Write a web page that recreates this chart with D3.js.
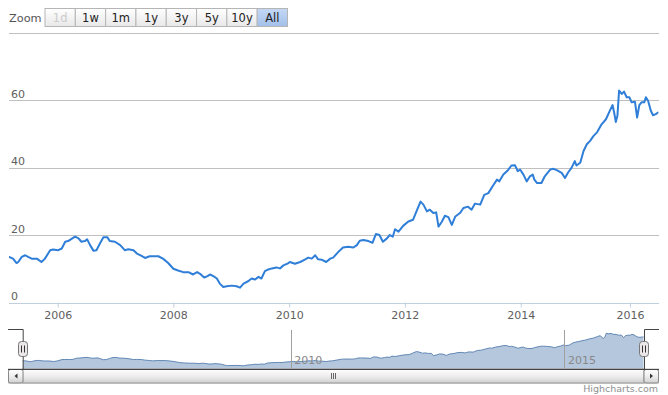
<!DOCTYPE html>
<html>
<head>
<meta charset="utf-8">
<script src="https://cdn.jsdelivr.net/npm/d3@7"></script>
<style>
  body { margin: 0; background: #fff; }
  svg { font-family: "DejaVu Sans", Verdana, sans-serif; display: block; }
</style>
</head>
<body>
<svg></svg>
<script>
let svgWidth = 668;
let svgHeight = 395;

// data (decimal year, price)
let years = [
    2005.16, 2005.23, 2005.29, 2005.32, 2005.38, 2005.44, 2005.49, 2005.55, 2005.64, 2005.72,
    2005.78, 2005.87, 2005.92, 2006.01, 2006.07, 2006.13, 2006.18, 2006.30, 2006.36, 2006.41,
    2006.47, 2006.51, 2006.56, 2006.62, 2006.67, 2006.73, 2006.79, 2006.86, 2006.90, 2006.99,
    2007.08, 2007.16, 2007.22, 2007.31, 2007.37, 2007.45, 2007.51, 2007.59, 2007.74, 2007.82,
    2007.91, 2008.00, 2008.08, 2008.17, 2008.26, 2008.34, 2008.41, 2008.46, 2008.53, 2008.59,
    2008.63, 2008.69, 2008.75, 2008.80, 2008.86, 2008.92, 2009.01, 2009.09, 2009.15, 2009.21,
    2009.29, 2009.35, 2009.41, 2009.47, 2009.52, 2009.58, 2009.64, 2009.70, 2009.78, 2009.84,
    2009.90, 2009.97, 2010.01, 2010.10, 2010.19, 2010.27, 2010.33, 2010.39, 2010.45, 2010.50,
    2010.56, 2010.64, 2010.71, 2010.76, 2010.85, 2010.93, 2011.02, 2011.11, 2011.17, 2011.22,
    2011.28, 2011.37, 2011.44, 2011.50, 2011.56, 2011.62, 2011.69, 2011.74, 2011.79, 2011.83,
    2011.89, 2011.97, 2012.06, 2012.14, 2012.20, 2012.27, 2012.32, 2012.38, 2012.43, 2012.49,
    2012.54, 2012.58, 2012.64, 2012.69, 2012.75, 2012.81, 2012.87, 2012.95, 2013.01, 2013.09,
    2013.15, 2013.21, 2013.30, 2013.37, 2013.44, 2013.52, 2013.59, 2013.63, 2013.70, 2013.78,
    2013.84, 2013.90, 2013.95, 2013.99, 2014.05, 2014.11, 2014.17, 2014.22, 2014.25, 2014.30,
    2014.38, 2014.44, 2014.54, 2014.60, 2014.66, 2014.75, 2014.81, 2014.87, 2014.93, 2014.99,
    2015.02, 2015.09, 2015.15, 2015.21, 2015.27, 2015.33, 2015.40, 2015.48, 2015.56, 2015.63,
    2015.68, 2015.71, 2015.74, 2015.77, 2015.80, 2015.85, 2015.89, 2015.94, 2015.99, 2016.03,
    2016.09, 2016.13, 2016.17, 2016.21, 2016.26, 2016.29, 2016.33, 2016.38, 2016.42, 2016.47,
    2016.51
];
let prices = [
    13.5, 13.0, 11.7, 12.0, 13.5, 14.0, 13.5, 13.0, 13.0, 12.0,
    13.0, 15.5, 15.7, 15.5, 16.0, 18.0, 18.2, 19.5, 19.0, 18.0,
    18.2, 18.7, 17.0, 15.3, 15.5, 17.5, 19.3, 19.3, 18.2, 18.0,
    17.0, 15.5, 15.8, 15.5, 14.5, 13.8, 13.2, 13.7, 13.7, 13.0,
    11.7, 10.0, 9.5, 9.0, 9.0, 8.3, 9.0, 8.5, 7.4, 7.8,
    8.3, 7.8, 7.1, 5.6, 4.6, 4.8, 5.0, 4.8, 4.4, 5.6,
    6.3, 7.1, 6.8, 7.6, 7.1, 9.3, 9.8, 10.1, 10.4, 10.1,
    11.0, 11.5, 12.0, 11.5, 12.0, 12.7, 13.3, 13.0, 14.0, 12.8,
    12.7, 12.0, 13.0, 13.3, 15.0, 16.3, 16.5, 16.3, 17.0, 18.3,
    18.5, 18.2, 17.7, 20.3, 20.0, 18.0, 19.0, 20.0, 19.5, 21.7,
    21.0, 22.7, 24.0, 24.5, 27.0, 29.9, 29.0, 27.0, 27.5, 26.5,
    26.7, 22.5, 24.0, 25.7, 25.3, 23.0, 25.5, 26.5, 28.0, 28.4,
    27.5, 29.3, 29.0, 31.9, 32.4, 34.6, 36.4, 35.9, 37.9, 39.2,
    40.6, 40.7, 38.9, 39.4, 37.9, 35.9, 37.4, 37.9, 36.4, 35.4,
    35.4, 37.4, 39.4, 39.6, 39.2, 38.4, 36.9, 38.6, 39.9, 41.9,
    40.6, 41.4, 44.9, 46.9, 47.9, 49.3, 50.5, 52.8, 54.3, 56.8,
    58.5, 56.3, 53.5, 55.3, 62.8, 61.8, 62.5, 60.8, 60.8, 59.3,
    59.5, 54.8, 58.5, 59.3, 59.3, 60.8, 59.8, 56.8, 55.5, 55.8,
    56.3
];
let yTicks = [0, 20, 40, 60, 80];
let xTickYears = [2006, 2008, 2010, 2012, 2014, 2016];
let navTickYears = [2010, 2015];
let zoomButtons = ["1d", "1w", "1m", "1y", "3y", "5y", "10y", "All"];

function to_date(yr){
    let y = Math.floor(yr);
    let start = new Date(y, 0, 1).getTime();
    let end = new Date(y + 1, 0, 1).getTime();
    return new Date(start + (yr - y) * (end - start));
}

function get_data(){
    let out = [];
    for(let i = 0; i < years.length; i++){
        out.push({"date": to_date(years[i]), "v": prices[i]});
    }
    return out;
}

let data = get_data();

let plotLeft = 9, plotRight = 658.5;
let plotTop = 32.5, plotBottom = 302.5;
let navLeft = 22.7, navRight = 644;
let navTop = 329.5, navBottom = 369;

let xDomain = [to_date(2005.16), new Date(2006, 0, 1), new Date(2014, 0, 1), new Date(2016, 0, 1), to_date(2016.52)];
let xRange = [plotLeft, 57.7, 520.7, 630, plotRight];
let xScale = d3.scaleTime().domain(xDomain).range(xRange);
let yScale = d3.scaleLinear().domain([0, 80]).range([plotBottom, plotTop]);

let navRange = xRange.map(r => navLeft + (r - plotLeft) * (navRight - navLeft) / (plotRight - plotLeft));
let navX = d3.scaleTime().domain(xDomain).range(navRange);
let ext = d3.extent(prices);
let pad = (ext[1] - ext[0]) * 0.1;
let navY = d3.scaleLinear().domain([ext[0] - pad, ext[1] + pad]).range([navBottom, navTop + 0.5]);

let svg = d3.select('svg').attr('width', svgWidth).attr('height', svgHeight);
let defs = svg.append('defs');

function add_gradient(id, stops){
    let g = defs.append('linearGradient').attr('id', id)
        .attr('x1', 0).attr('y1', 0).attr('x2', 0).attr('y2', 1);
    stops.forEach(s => g.append('stop').attr('offset', s[0]).attr('stop-color', s[1]));
}
add_gradient('btnGrad', [[0, '#ffffff'], [1, '#e8e8e8']]);
add_gradient('selGrad', [[0, '#c4d8f5'], [1, '#a2c0ea']]);
add_gradient('barGrad', [[0, '#ffffff'], [0.5, '#eeeeee'], [1, '#d0d0d0']]);
add_gradient('trackGrad', [[0, '#eeeeee'], [1, '#f8f8f8']]);

defs.append('clipPath').attr('id', 'plotClip').append('rect')
    .attr('x', plotLeft).attr('y', 0).attr('width', plotRight - plotLeft).attr('height', plotBottom + 2);

// range selector
svg.append('text').attr('x', 9).attr('y', 22).attr('font-size', 11.3).attr('fill', '#555').text('Zoom');

let btnScale = d3.scaleBand().domain(zoomButtons).range([45, 287.5]);
let btns = svg.append('g').selectAll('g').data(zoomButtons).enter().append('g')
    .attr('transform', d => 'translate(' + btnScale(d) + ',8.5)');
btns.append('rect')
    .attr('width', btnScale.bandwidth()).attr('height', 18)
    .attr('fill', d => d === 'All' ? 'url(#selGrad)' : 'url(#btnGrad)')
    .attr('stroke', '#b5b5b5');
btns.append('text')
    .attr('x', btnScale.bandwidth() / 2).attr('y', 13.5)
    .attr('text-anchor', 'middle').attr('font-size', 11.5)
    .attr('fill', d => d === '1d' ? '#cccccc' : '#222')
    .text(d => d);

// grid + y labels
let y_axis = d3.axisRight(yScale).tickValues(yTicks)
    .tickSize(plotRight - plotLeft)
    .tickFormat(d => d === 80 ? '' : d);
let yg = svg.append('g').attr('transform', 'translate(' + plotLeft + ',0)').call(y_axis);
yg.select('.domain').remove();
yg.selectAll('line').attr('stroke', '#c0c0c0').attr('shape-rendering', 'crispEdges');
yg.selectAll('text').attr('x', 2).attr('dy', -3).attr('text-anchor', 'start')
    .attr('font-size', 11).attr('fill', '#606060').attr('font-family', '"DejaVu Sans", sans-serif');

// x axis
let x_axis = d3.axisBottom(xScale).tickValues(xTickYears.map(y => new Date(y, 0, 1)))
    .tickFormat(d3.timeFormat('%Y')).tickSizeInner(5).tickSizeOuter(0).tickPadding(4);
let xg = svg.append('g').attr('transform', 'translate(0,' + plotBottom + ')').call(x_axis);
xg.select('.domain').attr('stroke', '#c0d0e0').attr('shape-rendering', 'crispEdges');
xg.selectAll('line').attr('stroke', '#c0d0e0');
xg.selectAll('text').attr('font-size', 11).attr('fill', '#606060').attr('font-family', '"DejaVu Sans", sans-serif');

// main series
let lineFunction = d3.line().x(d => xScale(d.date)).y(d => yScale(d.v)).curve(d3.curveLinear);
svg.append('path').attr('d', lineFunction(data))
    .attr('clip-path', 'url(#plotClip)')
    .attr('fill', 'none').attr('stroke', '#2f7ed8').attr('stroke-width', 2)
    .attr('stroke-linejoin', 'round').attr('stroke-linecap', 'round');

// navigator
let nav_axis = d3.axisBottom(navX).tickValues(navTickYears.map(y => new Date(y, 0, 1)))
    .tickFormat(d3.timeFormat('%Y')).tickSizeInner(-(navBottom - navTop)).tickSizeOuter(0);
let ng = svg.append('g').attr('transform', 'translate(0,' + navBottom + ')').call(nav_axis);
ng.select('.domain').remove();
ng.selectAll('line').attr('stroke', '#a0a0a0').attr('shape-rendering', 'crispEdges');
ng.selectAll('text').attr('text-anchor', 'start').attr('x', 3).attr('y', -5).attr('dy', 0)
    .attr('font-size', 11).attr('fill', '#888').attr('font-family', '"DejaVu Sans", sans-serif');

let navArea = d3.area().x(d => navX(d.date)).y0(navBottom).y1(d => navY(d.v));
svg.append('path').attr('d', navArea(data)).attr('fill', '#4572a7').attr('fill-opacity', 0.4);
svg.append('path').attr('d', d3.line().x(d => navX(d.date)).y(d => navY(d.v))(data))
    .attr('fill', 'none').attr('stroke', '#4572a7').attr('stroke-width', 1).attr('stroke-opacity', 0.8);
// bring nav labels on top of the area
ng.raise();

// scrollbar
let sb = svg.append('g');
sb.append('rect').attr('x', 8.5).attr('y', navBottom).attr('width', 650).attr('height', 14)
    .attr('fill', 'url(#trackGrad)').attr('stroke', '#bbb');
sb.append('rect').attr('x', navLeft).attr('y', navBottom).attr('width', navRight - navLeft).attr('height', 14)
    .attr('fill', 'url(#barGrad)').attr('stroke', '#999');
let midX = (navLeft + navRight) / 2;
[-2, 0, 2].forEach(o => sb.append('line')
    .attr('x1', Math.round(midX) + o + 0.5).attr('x2', Math.round(midX) + o + 0.5)
    .attr('y1', 373).attr('y2', 379).attr('stroke', '#666'));
// buttons: dir -1 points left, +1 points right
[[8.5, -1], [navRight, 1]].forEach(b => {
    sb.append('rect').attr('x', b[0]).attr('y', navBottom + 0.5).attr('width', 14.5).attr('height', 13.5)
        .attr('rx', 2).attr('fill', 'url(#barGrad)').attr('stroke', '#888');
    let cx = b[0] + 7.5, cy = navBottom + 7;
    sb.append('path').attr('d', 'M' + (cx + 1.5 * b[1]) + ',' + cy + 'L' + (cx - 1.5 * b[1]) + ',' + (cy - 2.5) + 'L' + (cx - 1.5 * b[1]) + ',' + (cy + 2.5) + 'Z')
        .attr('fill', '#333');
});
sb.append('line').attr('x1', 8).attr('x2', 659).attr('y1', navBottom + 0.5).attr('y2', navBottom + 0.5)
    .attr('stroke', '#444');

// navigator outline + handles
svg.append('path')
    .attr('d', 'M8,' + navTop + 'H' + (navLeft + 0.5) + 'V' + navBottom +
        'M' + (navRight + 0.5) + ',' + navBottom + 'V' + navTop + 'H659')
    .attr('fill', 'none').attr('stroke', '#444');
[navLeft, navRight].forEach(hx => {
    let h = svg.append('g').attr('transform', 'translate(' + Math.round(hx) + ',349)');
    h.append('rect').attr('x', -4.5).attr('y', -7.5).attr('width', 9).attr('height', 15).attr('rx', 3)
        .attr('fill', '#ebe7e8').attr('stroke', '#777');
    [-1.5, 1.5].forEach(o => h.append('line').attr('x1', o).attr('x2', o)
        .attr('y1', -3.5).attr('y2', 3.5).attr('stroke', '#333'));
});

// credits
svg.append('text').attr('x', 658).attr('y', 392).attr('text-anchor', 'end')
    .attr('font-size', 9.5).attr('fill', '#909090').text('Highcharts.com');
</script>
</body>
</html>
